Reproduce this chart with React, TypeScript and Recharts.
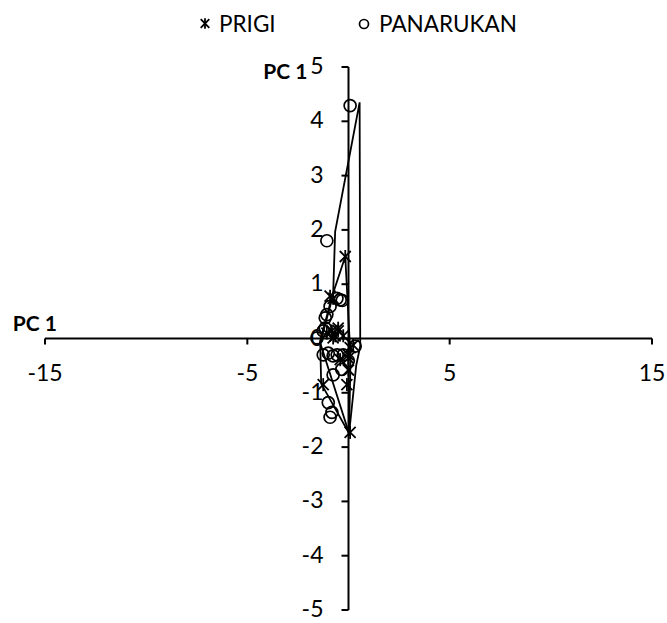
import { ScatterChart, Scatter, XAxis, YAxis, ReferenceLine, ReferenceDot, Legend } from "recharts";

// PC scores
const prigiX = [-0.16, -0.91, -0.76, -1.07, -0.82, -0.51, -0.76, -0.66, -0.26, -0.51, 0.08, 0.23, -0.01, -0.01, -0.41, -1.25, -0.08, 0.08, 0.0];
const prigiY = [1.51, 0.78, 0.74, 0.1, 0.14, 0.14, 0.01, 0.05, 0.05, 0.19, -0.17, -0.12, -0.3, -0.36, -0.39, -0.85, -0.85, -1.73, -0.58];

const panarukanX = [0.08, -1.07, -0.57, -0.41, -0.31, -1.07, -0.91, -1.15, -1.25, -1.56, -1.15, -1.0, -1.25, -0.76, -0.56, -0.26, -0.01, -0.33, -0.76, -1.0, -0.82, -0.91, 0.33];
const panarukanY = [4.29, 1.8, 0.74, 0.71, 0.7, 0.44, 0.59, 0.38, 0.14, 0.01, 0.19, -0.27, -0.3, -0.32, -0.3, -0.3, -0.41, -0.57, -0.67, -1.18, -1.36, -1.45, -0.14];

// group outlines
const prigiHullX = [-0.16, -0.81, -1.4, -1.35, 0.03, 0.1, -0.16];
const prigiHullY = [1.51, 0.78, -0.05, -0.83, -1.75, -0.35, 1.51];
const panarukanHullX = [0.55, 0.58, 0.38, 0.03, -1.4, -0.76, -0.66, 0.55];
const panarukanHullY = [4.35, -0.14, -0.5, -1.75, -0.08, 0.8, 1.97, 4.35];

const xTicks = [-15, -5, 5, 15];
const yTicks = [-5, -4, -3, -2, -1, 0, 1, 2, 3, 4, 5];

const FONT = "Lato, 'Open Sans', sans-serif";
const INK = "#000";
const FS = 23;

const zip = (xs: number[], ys: number[]) => xs.map((x, i) => ({ x, y: ys[i] }));

const prigi = zip(prigiX, prigiY);
const panarukan = zip(panarukanX, panarukanY);
const prigiHull = zip(prigiHullX, prigiHullY);
const panarukanHull = zip(panarukanHullX, panarukanHullY);
const xTickData = xTicks.map((x) => ({ x, y: 0 }));
const yTickData = yTicks.map((y) => ({ x: 0, y }));

function Star({ cx, cy, s = 5.5 }: any) {
  return (
    <g stroke={INK} strokeWidth={1.8}>
      <line x1={cx - s} y1={cy - s} x2={cx + s} y2={cy + s} />
      <line x1={cx - s} y1={cy + s} x2={cx + s} y2={cy - s} />
      <line x1={cx} y1={cy - s - 1} x2={cx} y2={cy + s + 1} />
    </g>
  );
}

function Ring({ cx, cy, r = 6 }: any) {
  return <circle cx={cx} cy={cy} r={r} fill="none" stroke={INK} strokeWidth={1.7} />;
}

const noDot = () => <g />;

function XTick({ cx, cy, payload }: any) {
  return (
    <g>
      <line x1={cx} y1={cy} x2={cx} y2={cy + 6} stroke={INK} strokeWidth={2} />
      <text x={cx} y={cy + 42} textAnchor="middle" fontFamily={FONT} fontSize={FS} fill={INK}>
        {payload.x}
      </text>
    </g>
  );
}

function YTick({ cx, cy, payload }: any) {
  return (
    <g>
      <line x1={cx - 7} y1={cy} x2={cx} y2={cy} stroke={INK} strokeWidth={2} />
      <text x={cx - 25} y={cy + 7} textAnchor="end" fontFamily={FONT} fontSize={FS} fill={INK}>
        {payload.y}
      </text>
    </g>
  );
}

const title = (dx: number, dy: number, anchor: string) => (props: any) => {
  const { viewBox } = props;
  return (
    <text
      x={viewBox.x + dx}
      y={viewBox.y + dy}
      textAnchor={anchor}
      fontFamily={FONT}
      fontSize={21}
      fontWeight="bold"
      fill={INK}
    >
      PC 1
    </text>
  );
};

function LegendBox() {
  return (
    <svg width={667} height={40} style={{ display: "block" }}>
      <Star cx={205} cy={23.5} s={4.3} />
      <text x={219} y={31.5} fontFamily={FONT} fontSize={22.5} fill={INK}>
        PRIGI
      </text>
      <Ring cx={364} cy={24} r={4.5} />
      <text x={379} y={31.5} fontFamily={FONT} fontSize={22.5} fill={INK}>
        PANARUKAN
      </text>
    </svg>
  );
}

export default function App() {
  return (
    <div style={{ position: "absolute", left: 0, top: 0, width: 667, height: 623, background: "#fff" }}>
      <ScatterChart width={667} height={623} margin={{ top: 27, right: 15, bottom: 13, left: 45 }}>
        <XAxis type="number" dataKey="x" domain={[-15, 15]} hide />
        <YAxis type="number" dataKey="y" domain={[-5, 5]} hide />
        <Legend
          verticalAlign="top"
          align="left"
          content={() => <LegendBox />}
          wrapperStyle={{ top: 0, left: 0, width: 667, height: 40 }}
        />
        <ReferenceLine y={0} stroke={INK} strokeWidth={2} />
        <ReferenceLine x={0} stroke={INK} strokeWidth={2} />
        <ReferenceDot x={-15} y={0} r={0} stroke="none" label={title(12, -8, "end")} />
        <ReferenceDot x={0} y={5} r={0} stroke="none" label={title(-41, 12, "end")} />
        <Scatter data={xTickData} shape={XTick} legendType="none" isAnimationActive={false} />
        <Scatter data={yTickData} shape={YTick} legendType="none" isAnimationActive={false} />
        <Scatter
          data={panarukanHull}
          line={{ stroke: INK, strokeWidth: 1.8 }}
          lineType="joint"
          shape={noDot}
          legendType="none"
          isAnimationActive={false}
        />
        <Scatter
          data={prigiHull}
          line={{ stroke: INK, strokeWidth: 1.8 }}
          lineType="joint"
          shape={noDot}
          legendType="none"
          isAnimationActive={false}
        />
        <Scatter name="PRIGI" data={prigi} shape={Star} isAnimationActive={false} />
        <Scatter name="PANARUKAN" data={panarukan} shape={Ring} isAnimationActive={false} />
      </ScatterChart>
    </div>
  );
}
